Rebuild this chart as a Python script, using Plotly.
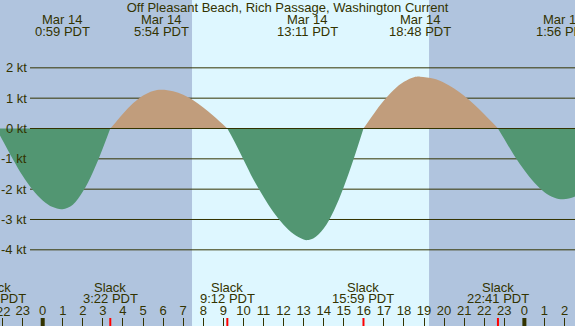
import plotly.graph_objects as go

# ---------------- data ----------------
title_text = "Off Pleasant Beach, Rich Passage, Washington Current"

# hours relative to Mar 14 00:00 PDT, current speed in knots (+ flood, - ebb)
hours = [-2.31, -2.0, -1.5, -1.0, -0.5, 0.0, 0.5, 0.983, 1.5, 2.0, 2.5, 3.0, 3.367,
         3.5, 4.0, 4.5, 5.0, 5.5, 5.9, 6.5, 7.0, 7.5, 8.0, 8.5, 9.0, 9.2,
         9.5, 10.0, 10.5, 11.0, 11.5, 12.0, 12.5, 13.0, 13.183, 13.5, 14.0, 14.5, 15.0, 15.5, 15.983,
         16.5, 17.0, 17.5, 18.0, 18.5, 18.8, 19.5, 20.0, 20.5, 21.0, 21.5, 22.0, 22.5, 22.683,
         23.0, 23.5, 24.0, 24.5, 25.0, 25.5, 25.933, 26.5, 27.0]
knots = [0, -0.39, -1.00, -1.56, -2.02, -2.37, -2.59, -2.66, -2.51, -2.08, -1.44, -0.64, 0,
         0.10, 0.49, 0.83, 1.09, 1.24, 1.28, 1.23, 1.11, 0.93, 0.69, 0.42, 0.12, 0,
         -0.36, -1.02, -1.68, -2.25, -2.76, -3.17, -3.48, -3.66, -3.68, -3.62, -3.30, -2.72, -1.93, -0.99, 0,
         0.49, 0.92, 1.28, 1.54, 1.69, 1.71, 1.64, 1.51, 1.32, 1.08, 0.79, 0.47, 0.13, 0,
         -0.35, -0.90, -1.38, -1.79, -2.10, -2.28, -2.33, -2.25, -2.05]

max_times = [0.983, 5.9, 13.183, 18.8, 25.933]
max_dates = ["Mar 14", "Mar 14", "Mar 14", "Mar 14", "Mar 15"]
max_labels = ["0:59 PDT", "5:54 PDT", "13:11 PDT", "18:48 PDT", "1:56 PDT"]

slack_times = [-2.31, 3.367, 9.2, 15.983, 22.683]
slack_labels = ["21:41 PDT", "3:22 PDT", "9:12 PDT", "15:59 PDT", "22:41 PDT"]

midnights = [0, 24]
sunrise, sunset = 7.44, 19.25

kt_levels = [2, 1, 0, -1, -2, -3, -4]
kt_labels = ["2 kt", "1 kt", "0 kt", "-1 kt", "-2 kt", "-3 kt", "-4 kt"]

tick_hours = list(range(-2, 27))
tick_text = [str(h % 24) for h in tick_hours]

# ---------------- styles ----------------
W, H = 575, 326
PX_PER_HOUR = 20.07
PX_PER_KT = 30.33
X0_PX = 42.7       # pixel of hour 0
Y0_PX = 128.5      # pixel of 0 kt
NIGHT = "#B0C4DE"
DAY = "#DEF7FF"
FLOOD = "#C19D7C"
EBB = "#529672"
INK = "#333300"
FONT = "Liberation Sans"

x_left = -X0_PX / PX_PER_HOUR
x_right = x_left + W / PX_PER_HOUR
y_top = Y0_PX / PX_PER_KT
y_bot = -(H - Y0_PX) / PX_PER_KT

fig = go.Figure()

# split curve into flood / ebb lobes at slack (zero) points
segs = []
start = 0
for i in range(1, len(knots)):
    if knots[i] == 0:
        segs.append((start, i))
        start = i
segs.append((start, len(knots) - 1))

for a, b in segs:
    xs = hours[a:b + 1]
    ys = knots[a:b + 1]
    col = FLOOD if sum(ys) > 0 else EBB
    fig.add_trace(go.Scatter(x=xs, y=ys, mode="lines", fill="tozeroy",
                             fillcolor=col, line=dict(width=0, color=col, shape="spline"),
                             hoverinfo="skip", showlegend=False))

shapes = []
shapes.append(dict(type="rect", xref="x", yref="paper", x0=sunrise, x1=sunset, y0=0, y1=1,
                   fillcolor=DAY, line=dict(width=0), layer="below"))
for v in kt_levels:
    shapes.append(dict(type="line", xref="paper", yref="y", x0=30 / W, x1=1, y0=v, y1=v,
                       line=dict(color=INK, width=1), layer="above" if v == 0 else "below"))
for t in slack_times:
    shapes.append(dict(type="line", xref="x", yref="paper", x0=t, x1=t, y0=0, y1=8 / H,
                       line=dict(color="#FF0000", width=2), layer="above"))
for t in midnights:
    shapes.append(dict(type="line", xref="x", yref="paper", x0=t, x1=t, y0=0, y1=8 / H,
                       line=dict(color=INK, width=4), layer="above"))

def f13():
    return dict(size=13, color=INK, family=FONT)

ann = []
for v, lab in zip(kt_levels, kt_labels):
    ann.append(dict(xref="paper", yref="y", x=29 / W, y=v, text=lab, showarrow=False,
                    xanchor="right", yanchor="middle", font=f13()))
for t, d, lab in zip(max_times, max_dates, max_labels):
    ann.append(dict(xref="x", yref="paper", x=t, y=1 - 19.5 / H, text=d, showarrow=False,
                    xanchor="center", yanchor="middle", font=f13()))
    ann.append(dict(xref="x", yref="paper", x=t, y=1 - 31.7 / H, text=lab, showarrow=False,
                    xanchor="center", yanchor="middle", font=f13()))
for t, lab in zip(slack_times, slack_labels):
    if t < x_left:
        # label centred off the left edge: anchor its right side inside the chart
        cx = (t - x_left) / (x_right - x_left)
        ann.append(dict(xref="paper", yref="paper", x=cx * 0 + 12.5 / W, y=1 - 287 / H, text="Slack",
                        showarrow=False, xanchor="right", yanchor="middle", font=f13()))
        ann.append(dict(xref="paper", yref="paper", x=27.5 / W, y=1 - 298.7 / H, text=lab,
                        showarrow=False, xanchor="right", yanchor="middle", font=f13()))
        continue
    ann.append(dict(xref="x", yref="paper", x=t, y=1 - 287 / H, text="Slack", showarrow=False,
                    xanchor="center", yanchor="middle", font=f13()))
    ann.append(dict(xref="x", yref="paper", x=t, y=1 - 298.7 / H, text=lab, showarrow=False,
                    xanchor="center", yanchor="middle", font=f13()))
# first hour label, partly cut at the left edge (plotly hides the axis label there)
ann.append(dict(xref="x", yref="paper", x=tick_hours[0], y=1 - 311 / H, text=tick_text[0],
                showarrow=False, xanchor="center", yanchor="middle", font=f13()))

fig.update_layout(
    width=W, height=H, autosize=False,
    margin=dict(l=0, r=0, t=0, b=0, pad=0),
    paper_bgcolor=NIGHT, plot_bgcolor=NIGHT,
    title=dict(text=title_text, x=0.5, xanchor="center", y=1 - 7.5 / H, yanchor="middle",
               font=f13()),
    shapes=shapes, annotations=ann, showlegend=False,
    xaxis=dict(range=[x_left, x_right], showgrid=False, zeroline=False, showline=False,
               tickmode="array", tickvals=tick_hours, ticktext=tick_text,
               ticks="inside", ticklen=8, tickwidth=1, tickcolor=INK,
               ticklabelposition="inside", tickfont=f13()),
    yaxis=dict(range=[y_bot, y_top], visible=False, fixedrange=True),
)

fig.write_html("out.html", config={"displayModeBar": False},
               post_script="document.body.style.margin='0';document.body.style.overflow='hidden';")
